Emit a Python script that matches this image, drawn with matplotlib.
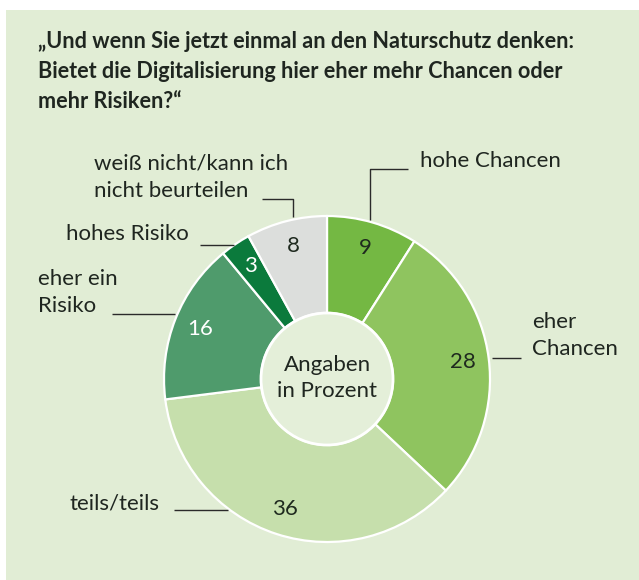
import matplotlib
matplotlib.use('Agg')
import numpy as np
import matplotlib.pyplot as plt
import matplotlib.patches as mpatches

plt.rcParams['font.family'] = ['Lato', 'DejaVu Sans']

# ── Data ───────────────────────────────────────────────────────────────────
categories = ['hohe Chancen', 'eher Chancen', 'teils/teils',
              'eher ein Risiko', 'hohes Risiko',
              'weiß nicht/kann ich nicht beurteilen']
values = [9, 28, 36, 16, 3, 8]
colors = ['#74b843', '#8fc45f', '#c6dfac', '#4f9b6c', '#0b7a3c', '#dcdedc']
value_colors = ['#1f2a1f', '#1f2a1f', '#1f2a1f', 'white', 'white', '#1f2a1f']

title = ('„Und wenn Sie jetzt einmal an den Naturschutz denken:\n'
         'Bietet die Digitalisierung hier eher mehr Chancen oder\n'
         'mehr Risiken?“')
center_text = 'Angaben\nin Prozent'

BG = '#e1edd5'
INK = '#1f2620'
W, H = 639, 580

def Y(y):
    # image px (top-down) -> axes y (bottom-up)
    return H - y

fig = plt.figure(figsize=(W / 100, H / 100), dpi=100)
ax = fig.add_axes([0, 0, 1, 1])
ax.set_xlim(0, W)
ax.set_ylim(0, H)
ax.set_aspect('equal')
ax.axis('off')

# panel background
ax.add_patch(mpatches.Rectangle((6, -5), W, H - 5, facecolor=BG,
                                edgecolor='none', zorder=0))

ax.text(38, Y(31), title, ha='left', va='top', fontsize=15.6,
        fontweight='bold', color=INK, linespacing=1.54)

# ── Donut ──────────────────────────────────────────────────────────────────
cx, cy, R, r_in = 327, Y(379), 163, 66
wedges, _ = ax.pie(values, colors=colors, startangle=90, counterclock=False,
                   center=(cx, cy), radius=R, frame=True,
                   wedgeprops=dict(width=R - r_in, edgecolor='white',
                                   linewidth=1.6))
ax.set_xlim(0, W)
ax.set_ylim(0, H)
ax.axis('off')

ax.add_patch(mpatches.Circle((cx, cy), r_in, facecolor='#e4efd9',
                             edgecolor='white', linewidth=2, zorder=5))
ax.text(cx, cy + 1, center_text, ha='center', va='center', fontsize=16,
        color=INK, linespacing=1.4, zorder=6)

for w, v, tc in zip(wedges, values, value_colors):
    ang = np.deg2rad((w.theta1 + w.theta2) / 2)
    rr = 0.84 * R
    ax.text(cx + rr * np.cos(ang), cy + rr * np.sin(ang), str(v),
            ha='center', va='center', fontsize=16, color=tc, zorder=6)

# ── Category labels with leader lines ─────────────────────────────────────
label_layout = [
    # text, x, y(center of first line), leader path
    ('hohe Chancen', 420, 164, [(408, 169), (370, 169), (370, 220)]),
    ('eher\nChancen', 532, 325, [(492, 358), (521, 358)]),
    ('teils/teils', 70, 506, [(174, 510), (228, 510)]),
    ('eher ein\nRisiko', 38, 282, [(112, 314), (175, 314)]),
    ('hohes Risiko', 66, 237, [(200, 245), (234, 245)]),
    ('weiß nicht/kann ich\nnicht beurteilen', 94, 167,
     [(262, 199), (293, 199), (293, 217)]),
]
for txt, tx, ty, path in label_layout:
    ax.text(tx, Y(ty - 13), txt, ha='left', va='top', fontsize=16,
            color=INK, linespacing=1.46)
    px, py = zip(*path)
    ax.plot(px, [Y(p) for p in py], color='#2a2a2a', linewidth=1.0,
            solid_capstyle='butt', zorder=4)

fig.savefig('out.png', dpi=100, facecolor='white')
